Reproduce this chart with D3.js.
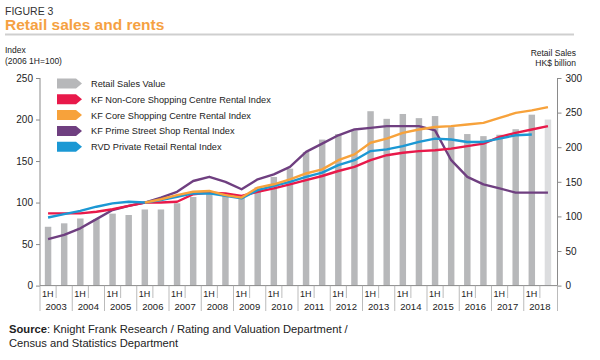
<!DOCTYPE html>
<html><head><meta charset="utf-8">
<script src="https://cdn.jsdelivr.net/npm/d3@7"></script>
<style>body{margin:0;background:#fff}svg{display:block;font-family:"Liberation Sans",Arial,sans-serif}</style>
</head><body><svg id="c" width="600" height="360"></svg>
<script>
const years = d3.range(2003, 2019);
const periods = years.flatMap(y => [y + " 1H", y + " 2H"]);
const salesValue = [85, 90, 97, 96, 104, 102, 110, 110, 119, 128, 134, 130, 128, 142, 157, 169, 193, 211, 219, 224, 252, 241, 248, 242, 245, 229, 219, 216, 218, 226, 247, 240];
const kfNonCore = [87, 87, 87, 89, 92, 96, 100, 100, 101, 110, 112, 111, 108, 113, 117, 122, 127, 132, 138, 143, 151, 157, 160, 162, 163, 165, 168, 171, 179, 184, 188, 192];
const kfCore = [null, null, null, null, null, null, 100, 104, 109, 113, 114, 109, 106, 118, 122, 128, 135, 140, 151, 158, 172, 177, 184, 188, 191, 192, 194, 196, 202, 208, 211, 215];
const kfPrime = [56, 61, 69, 80, 91, 96, 100, 106, 113, 126, 131, 125, 116, 128, 134, 143, 161, 171, 181, 188, 190, 192, 192, 192, 187, 151, 131, 122, 117, 112, 112, 112];
const rvdPrivate = [82, 86, 90, 95, 99, 101, 100, 103, 107, 111, 111, 108, 105, 115, 120, 125, 131, 136, 145, 151, 162, 164, 168, 173, 177, 176, 173, 173, 177, 181, 182, null];
const leftTicks = [0, 50, 100, 150, 200, 250];
const rightTicks = [0, 50, 100, 150, 200, 250, 300];
const legendLabels = ["Retail Sales Value", "KF Non-Core Shopping Centre Rental Index", "KF Core Shopping Centre Rental Index", "KF Prime Street Shop Rental Index", "RVD Private Retail Rental Index"];

const colors = {sales: "#b7b8ba", salesLight: "#dcdddf", red: "#e8194a", orange: "#f7a23b", purple: "#6f3f80", blue: "#1b98d4"};
const svg = d3.select("#c");
const x0 = 40, x1 = 556, yTop = 78, yBot = 285.6;

const x = d3.scaleBand().domain(periods).range([x0, x1]).paddingInner(0.6).paddingOuter(0.3);
const yL = d3.scaleLinear().domain([0, 250]).range([yBot, yTop]);
const yR = d3.scaleLinear().domain([0, 300]).range([yBot, yTop]);
const cx = p => x(p) + x.bandwidth() / 2;

// Header
svg.append("text").attr("x", 5).attr("y", 15).attr("font-size", 10.5).attr("fill", "#333").text("FIGURE 3");
svg.append("text").attr("x", 5).attr("y", 30).attr("font-size", 15.5).attr("font-weight", "bold").attr("fill", "#f5a142").text("Retail sales and rents");
svg.append("line").attr("x1", 5).attr("x2", 574).attr("y1", 34.5).attr("y2", 34.5).attr("stroke", "#cfcfcf").attr("stroke-width", 2);
svg.append("text").attr("x", 5).attr("y", 53).attr("font-size", 8.5).attr("fill", "#222").text("Index");
svg.append("text").attr("x", 5).attr("y", 63.5).attr("font-size", 8.5).attr("fill", "#222").text("(2006 1H=100)");
svg.append("text").attr("x", 576).attr("y", 56).attr("text-anchor", "end").attr("font-size", 8.5).attr("fill", "#222").text("Retail Sales");
svg.append("text").attr("x", 576).attr("y", 66).attr("text-anchor", "end").attr("font-size", 8.5).attr("fill", "#222").text("HK$ billion");

// Bars
svg.append("g").selectAll("rect").data(salesValue).join("rect")
  .attr("x", (d, i) => x(periods[i])).attr("width", x.bandwidth())
  .attr("y", d => yR(d)).attr("height", d => yBot - yR(d))
  .attr("fill", (d, i) => i === salesValue.length - 1 ? colors.salesLight : colors.sales);

// Axes
const axisColor = "#8a8a8a";
const gL = svg.append("g").attr("transform", `translate(${x0},0)`).call(d3.axisLeft(yL).tickValues(leftTicks).tickSize(4).tickPadding(3));
const gR = svg.append("g").attr("transform", `translate(${x1 + 1.5},0)`).call(d3.axisRight(yR).tickValues(rightTicks).tickSize(4).tickPadding(4));
[gL, gR].forEach(g => {
  g.selectAll(".tick line").attr("stroke", axisColor);
  g.selectAll(".tick text").attr("font-size", 10).attr("fill", "#222").attr("font-family", "Liberation Sans, Arial, sans-serif");
  g.select(".domain").remove();
});
svg.append("line").attr("x1", x0).attr("x2", x0).attr("y1", yTop).attr("y2", yBot).attr("stroke", axisColor);
svg.append("line").attr("x1", x1 + 1.5).attr("x2", x1 + 1.5).attr("y1", yTop).attr("y2", yBot).attr("stroke", axisColor);
svg.append("line").attr("x1", x0).attr("x2", x1 + 1.5).attr("y1", yBot).attr("y2", yBot).attr("stroke", axisColor);

// X-axis categories
const yearW = (x1 - x0) / years.length;
const gx = svg.append("g");
years.forEach((yr, k) => {
  const bx = x0 + k * yearW;
  gx.append("line").attr("x1", bx).attr("x2", bx).attr("y1", yBot).attr("y2", 311).attr("stroke", "#aaa").attr("stroke-width", 0.8);
  gx.append("line").attr("x1", bx + yearW / 2).attr("x2", bx + yearW / 2).attr("y1", yBot).attr("y2", 298).attr("stroke", "#aaa").attr("stroke-width", 0.8);
  gx.append("text").attr("x", bx + 2).attr("y", 297).attr("font-size", 9).attr("fill", "#222").text("1H");
  gx.append("text").attr("x", bx + yearW / 2).attr("y", 309.5).attr("text-anchor", "middle").attr("font-size", 9.5).attr("fill", "#222").text(yr);
});
gx.append("line").attr("x1", x1 + 1.5).attr("x2", x1 + 1.5).attr("y1", yBot).attr("y2", 311).attr("stroke", "#aaa").attr("stroke-width", 0.8);

// Lines
const line = d3.line().defined(d => d != null).x((d, i) => cx(periods[i])).y(d => yL(d)).curve(d3.curveLinear);
const series = [
  {v: kfPrime, c: colors.purple},
  {v: kfNonCore, c: colors.red},
  {v: rvdPrivate, c: colors.blue},
  {v: kfCore, c: colors.orange}
];
series.forEach(s => {
  svg.append("path").attr("d", line(s.v)).attr("fill", "none").attr("stroke", s.c).attr("stroke-width", 2.4).attr("stroke-linejoin", "round");
});

// Legend
const legColors = [colors.sales, colors.red, colors.orange, colors.purple, colors.blue];
const lg = svg.append("g");
legendLabels.forEach((t, i) => {
  const ly = 83.5 + i * 15.8;
  lg.append("path").attr("d", `M57,${ly - 5}L76,${ly - 5}L82,${ly}L76,${ly + 5}L57,${ly + 5}Z`).attr("fill", legColors[i]);
  lg.append("text").attr("x", 91).attr("y", ly + 3.5).attr("font-size", 9.2).attr("fill", "#222").text(t);
});

// Source
const src = svg.append("text").attr("x", 9).attr("y", 333).attr("font-size", 11.2).attr("fill", "#222");
src.append("tspan").attr("font-weight", "bold").text("Source");
src.append("tspan").text(": Knight Frank Research / Rating and Valuation Department /");
svg.append("text").attr("x", 9).attr("y", 346.5).attr("font-size", 11.2).attr("fill", "#222").text("Census and Statistics Department");
</script></body></html>
